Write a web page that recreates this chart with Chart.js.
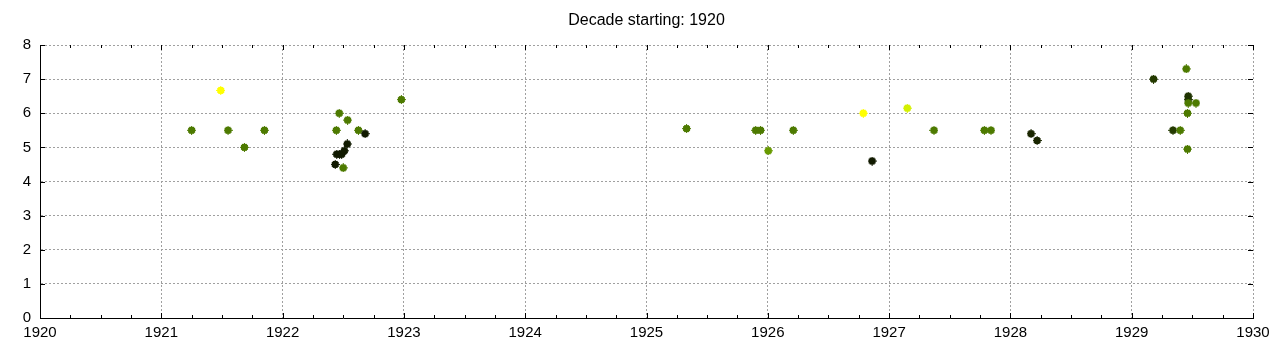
<!DOCTYPE html>
<html>
<head>
<meta charset="utf-8">
<script src="https://cdn.jsdelivr.net/npm/chart.js@4/dist/chart.umd.min.js"></script>
<style>
	html, body { margin: 0; padding: 0; background: #fff; }
	#wrap { width: 1280px; height: 350px; }
</style>
</head>
<body>
<div id="wrap"><canvas id="decade_chart"></canvas></div>
<script>
// values
const years = [
	1921.25, 1921.49, 1921.55, 1921.685, 1921.85,
	1922.434, 1922.443, 1922.446, 1922.467, 1922.47, 1922.487, 1922.50, 1922.509,
	1922.533, 1922.536, 1922.625, 1922.68, 1922.979,
	1925.33, 1925.90, 1925.94, 1926.004, 1926.21, 1926.787, 1926.86,
	1927.15, 1927.37, 1927.785, 1927.84, 1928.17, 1928.22,
	1929.18, 1929.34, 1929.40, 1929.45, 1929.46, 1929.466, 1929.466, 1929.466, 1929.53, 1929.46
]
const ratings = [
	5.5, 6.67, 5.5, 5.0, 5.5,
	4.5, 5.5, 4.8, 6.0, 4.8, 4.8, 4.4, 4.9,
	5.1, 5.8, 5.5, 5.4, 6.4,
	5.55, 5.5, 5.5, 4.9, 5.5, 6.0, 4.6,
	6.15, 5.5, 5.5, 5.5, 5.4, 5.2,
	7.0, 5.5, 5.5, 7.3, 6.0, 6.5, 6.4, 6.3, 6.3, 4.95
]
const pointColours = [
	'#4d7a00', '#ffff00', '#4d7a00', '#4d7a00', '#4d7a00',
	'#111a00', '#4d7a00', '#111a00', '#4d7a00', '#111a00', '#111a00', '#4d7a00', '#111a00',
	'#111a00', '#4d7a00', '#4d7a00', '#111a00', '#4d7a00',
	'#4d7a00', '#4d7a00', '#4d7a00', '#689a00', '#4d7a00', '#ffff00', '#111a00',
	'#d4f000', '#4d7a00', '#4d7a00', '#4d7a00', '#1a2600', '#1a2600',
	'#243a00', '#243a00', '#4d7a00', '#4d7a00', '#4d7a00', '#1f3300', '#1f3300', '#4d7a00', '#4d7a00', '#4d7a00'
]
const xTicks = [1920, 1921, 1922, 1923, 1924, 1925, 1926, 1927, 1928, 1929, 1930]
const yTicks = [0, 1, 2, 3, 4, 5, 6, 7, 8]
const titleText = 'Decade starting: 1920'

const FONT = 'Liberation Sans, Arial, sans-serif'

// gnuplot-like marker: small filled blob with a plus through it
function make_marker (colour) {
	var c = document.createElement('canvas')
	c.width = 9
	c.height = 9
	var g = c.getContext('2d')
	g.fillStyle = colour
	g.fillRect(1, 2, 7, 5)
	g.fillRect(2, 1, 5, 7)
	g.fillRect(4, 0, 1, 9)
	g.fillRect(0, 4, 9, 1)
	return c
}
const markers = pointColours.map(make_marker)

// title centred over the plot area, the way gnuplot places it
const titlePlugin = {
	id: 'plotTitle',
	afterDraw (chart) {
		var ctx = chart.ctx, a = chart.chartArea
		ctx.save()
		ctx.fillStyle = '#000'
		ctx.font = '16px ' + FONT
		ctx.textAlign = 'center'
		ctx.textBaseline = 'middle'
		ctx.fillText(titleText, (a.left + a.right) / 2, 21)
		ctx.restore()
	}
}

// small inward ticks like gnuplot (minor quarters on x, mirrored ticks on y)
const tickPlugin = {
	id: 'inwardTicks',
	afterDatasetsDraw (chart) {
		var ctx = chart.ctx, a = chart.chartArea
		var xs = chart.scales.x, ys = chart.scales.y
		ctx.save()
		ctx.strokeStyle = '#000'
		ctx.lineWidth = 1
		ctx.beginPath()
		for (var yr = 1920; yr < 1930; yr++) {
			for (var q = 0.25; q < 1; q += 0.25) {
				var px = Math.round(xs.getPixelForValue(yr + q)) + 0.5
				ctx.moveTo(px, a.bottom); ctx.lineTo(px, a.bottom - 3)
				ctx.moveTo(px, a.top); ctx.lineTo(px, a.top + 3)
			}
		}
		yTicks.forEach(function (v) {
			var py = Math.round(ys.getPixelForValue(v)) + 0.5
			ctx.moveTo(a.left, py); ctx.lineTo(a.left + 5, py)
			ctx.moveTo(a.right, py); ctx.lineTo(a.right - 5, py)
		})
		xTicks.forEach(function (v) {
			var px = Math.round(xs.getPixelForValue(v)) + 0.5
			ctx.moveTo(px, a.bottom); ctx.lineTo(px, a.bottom - 5)
			ctx.moveTo(px, a.top); ctx.lineTo(px, a.top + 5)
		})
		ctx.stroke()
		ctx.restore()
	}
}

new Chart('decade_chart', {
	type: 'scatter',
	data: {
		datasets: [{
			data: years.map((x, i) => ({x: x, y: ratings[i]})),
			pointStyle: c => markers[c.dataIndex],
			pointRadius: 4,
			pointHoverRadius: 4,
		}],
	},
	options: {
		animation: false,
		responsive: true,
		maintainAspectRatio: false,
		layout: {padding: {top: 45, right: 27, left: 0, bottom: 0}},
		plugins: {
			legend: {display: false},
			tooltip: {enabled: false},
			title: {display: false},
		},
		scales: {
			x: {
				type: 'linear',
				min: 1920,
				max: 1930,
				afterBuildTicks: s => { s.ticks = xTicks.map(v => ({value: v})) },
				afterFit: s => { s.height = 32 },
				grid: {
					color: '#a0a0a0',
					drawTicks: false,
				},
				border: {display: true, color: '#000', width: 1, dash: [2, 2]},
				ticks: {
					color: '#000',
					padding: 6,
					maxRotation: 0,
					font: {family: FONT, size: 15},
					callback: v => String(v),
				},
			},
			y: {
				min: 0,
				max: 8,
				afterBuildTicks: s => { s.ticks = yTicks.map(v => ({value: v})) },
				afterFit: s => { s.width = 40 },
				grid: {
					color: '#a0a0a0',
					drawTicks: false,
				},
				border: {display: true, color: '#000', width: 1, dash: [2, 2]},
				ticks: {
					color: '#000',
					padding: 9,
					font: {family: FONT, size: 15},
				},
			},
		},
	},
	plugins: [tickPlugin, titlePlugin],
})
</script>
</body>
</html>
